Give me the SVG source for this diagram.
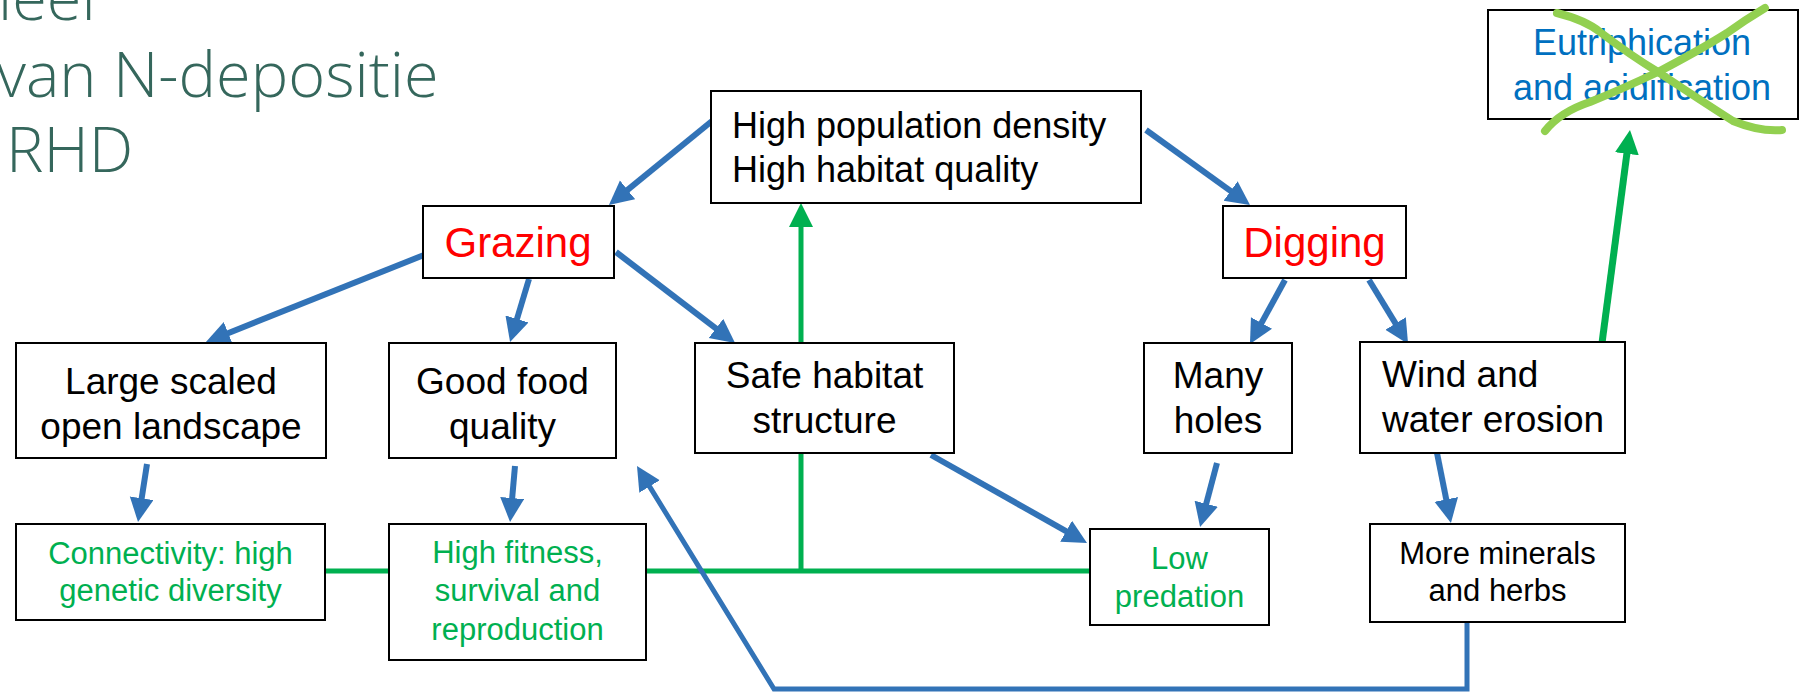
<svg xmlns="http://www.w3.org/2000/svg" width="1806" height="692" viewBox="0 0 1806 692">
<style>
.box{fill:#fff;stroke:#000;stroke-width:2}
.t{font-family:"Liberation Sans",Arial,sans-serif;fill:#000}
.title{font-family:"Open Sans","Noto Sans",sans-serif;font-weight:300;font-size:63px;fill:#35675c}
.blue{fill:none;stroke:#3273b7;stroke-width:6}
.blue2{fill:none;stroke:#3273b7;stroke-width:5}
.green{fill:none;stroke:#00b050;stroke-width:5}
.cross{fill:none;stroke:#92d050;stroke-width:8;stroke-linecap:round}
</style>
<defs>
<marker id="ab" markerUnits="userSpaceOnUse" markerWidth="26" markerHeight="26" refX="11" refY="12" orient="auto"><path d="M0,0 L24,12 L0,24 z" fill="#3273b7"/></marker>
<marker id="ag" markerUnits="userSpaceOnUse" markerWidth="26" markerHeight="26" refX="11" refY="12" orient="auto"><path d="M0,0 L24,12 L0,24 z" fill="#00b050"/></marker>
</defs>
<g id="title">
<text class="title" x="-2" y="20">ieel</text>
<text class="title" x="-3" y="97">van N-depositie</text>
<text class="title" x="6" y="172">RHD</text>
</g>
<g id="connectors">
<line class="green" x1="325" y1="571" x2="389" y2="571"/>
<line class="green" x1="646" y1="571" x2="1090" y2="571"/>
<line class="green" x1="801" y1="571" x2="801" y2="216" marker-end="url(#ag)"/>
<line class="green" style="stroke-width:7" x1="1602" y1="343" x2="1628.3" y2="142.9" marker-end="url(#ag)"/>
<line class="blue" x1="712" y1="121" x2="619" y2="196.8" marker-end="url(#ab)"/>
<line class="blue" x1="1146" y1="130" x2="1239.5" y2="197.4" marker-end="url(#ab)"/>
<line class="blue" x1="424" y1="255" x2="218" y2="337.2" marker-end="url(#ab)"/>
<line class="blue" x1="529" y1="279" x2="513.8" y2="329.5" marker-end="url(#ab)"/>
<line class="blue" x1="616" y1="252" x2="724.7" y2="335.1" marker-end="url(#ab)"/>
<line class="blue" x1="1285" y1="280" x2="1256.2" y2="332.6" marker-end="url(#ab)"/>
<line class="blue" x1="1369" y1="280" x2="1401.3" y2="332.9" marker-end="url(#ab)"/>
<line class="blue" x1="147" y1="464" x2="140" y2="509.1" marker-end="url(#ab)"/>
<line class="blue" x1="515" y1="466" x2="511.2" y2="509" marker-end="url(#ab)"/>
<line class="blue" x1="931" y1="455" x2="1075.7" y2="536.6" marker-end="url(#ab)"/>
<line class="blue" x1="1217" y1="463" x2="1203.4" y2="514.4" marker-end="url(#ab)"/>
<line class="blue" x1="1437" y1="453" x2="1448.4" y2="510.2" marker-end="url(#ab)"/>
<polyline class="blue2" points="1467,622 1467,689 774,689 643.8,477.1" marker-end="url(#ab)"/>
</g>
<g id="n-density">
<rect class="box" x="711" y="91" width="430" height="112"/>
<text class="t" font-size="36" x="732" y="138">High population density</text>
<text class="t" font-size="36" x="732" y="182">High habitat quality</text>
</g>
<g id="n-eutro">
<rect class="box" x="1488" y="10" width="310" height="109"/>
<text class="t" font-size="36" x="1642" y="55" text-anchor="middle" style="fill:#0070c0">Eutriphication</text>
<text class="t" font-size="36" x="1642" y="100" text-anchor="middle" style="fill:#0070c0">and acidification</text>
<path class="cross" d="M1557,13 Q1585,20 1600,32 Q1630,55 1658,72 Q1700,100 1733,121 Q1760,132 1782,130"/>
<path class="cross" d="M1765,8 Q1745,20 1727,33 Q1700,50 1658,72 Q1620,90 1590,102 Q1560,112 1545,131"/>
</g>
<g id="n-grazing">
<rect class="box" x="423" y="206" width="191" height="72"/>
<text class="t" font-size="42" x="518" y="257" text-anchor="middle" style="fill:#ff0000">Grazing</text>
</g>
<g id="n-digging">
<rect class="box" x="1223" y="206" width="183" height="72"/>
<text class="t" font-size="42" x="1314.5" y="257" text-anchor="middle" style="fill:#ff0000">Digging</text>
</g>
<g id="n-large">
<rect class="box" x="16" y="343" width="310" height="115"/>
<text class="t" font-size="37" x="171" y="394" text-anchor="middle">Large scaled</text>
<text class="t" font-size="37" x="171" y="439" text-anchor="middle">open landscape</text>
</g>
<g id="n-food">
<rect class="box" x="389" y="343" width="227" height="115"/>
<text class="t" font-size="37" x="502.5" y="394" text-anchor="middle">Good food</text>
<text class="t" font-size="37" x="502.5" y="439" text-anchor="middle">quality</text>
</g>
<g id="n-safe">
<rect class="box" x="695" y="343" width="259" height="110"/>
<text class="t" font-size="37" x="824.5" y="388" text-anchor="middle">Safe habitat</text>
<text class="t" font-size="37" x="824.5" y="433" text-anchor="middle">structure</text>
</g>
<g id="n-holes">
<rect class="box" x="1144" y="343" width="148" height="110"/>
<text class="t" font-size="37" x="1218" y="388" text-anchor="middle">Many</text>
<text class="t" font-size="37" x="1218" y="433" text-anchor="middle">holes</text>
</g>
<g id="n-erosion">
<rect class="box" x="1360" y="342" width="265" height="111"/>
<text class="t" font-size="37" x="1382" y="387">Wind and</text>
<text class="t" font-size="37" x="1382" y="432">water erosion</text>
</g>
<g id="n-connectivity">
<rect class="box" x="16" y="524" width="309" height="96"/>
<text class="t" font-size="31" x="170.5" y="564" text-anchor="middle" style="fill:#00b050">Connectivity: high</text>
<text class="t" font-size="31" x="170.5" y="601" text-anchor="middle" style="fill:#00b050">genetic diversity</text>
</g>
<g id="n-fitness">
<rect class="box" x="389" y="524" width="257" height="136"/>
<text class="t" font-size="31" x="517.5" y="563" text-anchor="middle" style="fill:#00b050">High fitness,</text>
<text class="t" font-size="31" x="517.5" y="601" text-anchor="middle" style="fill:#00b050">survival and</text>
<text class="t" font-size="31" x="517.5" y="640" text-anchor="middle" style="fill:#00b050">reproduction</text>
</g>
<g id="n-predation">
<rect class="box" x="1090" y="529" width="179" height="96"/>
<text class="t" font-size="31" x="1179.5" y="569" text-anchor="middle" style="fill:#00b050">Low</text>
<text class="t" font-size="31" x="1179.5" y="607" text-anchor="middle" style="fill:#00b050">predation</text>
</g>
<g id="n-minerals">
<rect class="box" x="1370" y="524" width="255" height="98"/>
<text class="t" font-size="31" x="1497.5" y="564" text-anchor="middle">More minerals</text>
<text class="t" font-size="31" x="1497.5" y="601" text-anchor="middle">and herbs</text>
</g>
</svg>
